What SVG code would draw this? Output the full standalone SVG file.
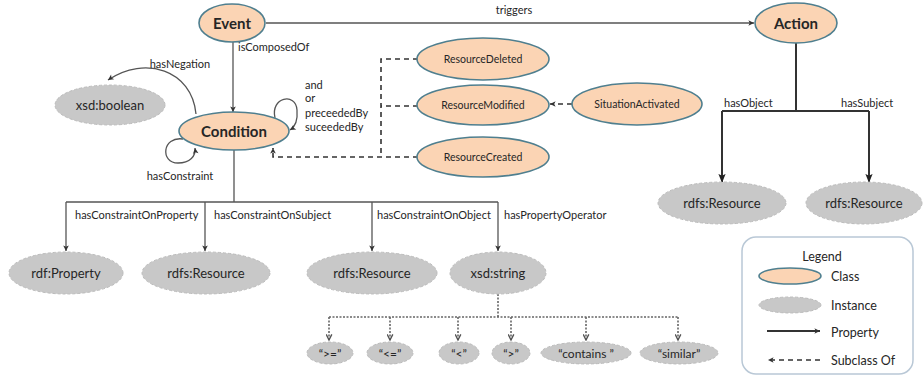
<svg xmlns="http://www.w3.org/2000/svg" width="923" height="380" viewBox="0 0 923 380">
  <defs>
    <marker id="arr" viewBox="0 0 10 10" refX="9" refY="5" markerWidth="7" markerHeight="7" markerUnits="userSpaceOnUse" orient="auto">
      <path d="M1,1 L9,5 L1,9 L3,5 Z" fill="#333"/>
    </marker>
    <marker id="arrBig" viewBox="0 0 10 10" refX="9" refY="5" markerWidth="9" markerHeight="9" markerUnits="userSpaceOnUse" orient="auto">
      <path d="M0,1 L10,5 L0,9 L2,5 Z" fill="#222"/>
    </marker>
    <marker id="arrDot" viewBox="0 0 10 10" refX="9" refY="5" markerWidth="7" markerHeight="7" markerUnits="userSpaceOnUse" orient="auto">
      <path d="M1,1 L9,5 L1,9" fill="none" stroke="#555" stroke-width="2"/>
    </marker>
  </defs>
  <style>
    .cls { fill: #fbd4b4; stroke: #4f7f8f; stroke-width: 1.6; }
    .inst { fill: #c8c8c8; stroke: #bcbcbc; stroke-width: 1; stroke-dasharray: 3 2; }
    .t { font-family: Lato, "Liberation Sans", sans-serif; fill: #262626; text-anchor: middle; dominant-baseline: central; }
    .big { font-size: 15px; font-weight: bold; }
    .mid { font-size: 13px; }
    .sm { font-size: 10.5px; }
    .op { font-size: 12px; }
    .lbl { font-family: Lato, "Liberation Sans", sans-serif; fill: #262626; font-size: 11px; }
    .leg { font-family: Lato, "Liberation Sans", sans-serif; fill: #262626; font-size: 12.5px; }
    .prop { fill: none; stroke: #555; stroke-width: 1.3; }
    .propB { fill: none; stroke: #333; stroke-width: 2; }
    .sub { fill: none; stroke: #333; stroke-width: 1.6; stroke-dasharray: 5 4; }
    .dot { fill: none; stroke: #666; stroke-width: 1.6; stroke-dasharray: 2 1.5; }
  </style>
  <rect width="923" height="380" fill="#ffffff"/>

  <!-- connectors -->
  <g id="connectors">
    <!-- Event -> Action -->
    <path class="prop" d="M266,23 L754,23" stroke="#777" marker-end="url(#arr)"/>
    <text class="lbl" x="514" y="14" text-anchor="middle">triggers</text>
    <!-- Event -> Condition -->
    <path class="prop" d="M233,42 L233,112" marker-end="url(#arr)"/>
    <text class="lbl" x="238" y="51">isComposedOf</text>
    <!-- hasNegation -->
    <path class="prop" d="M196,114 C192,70 145,55 108,80" marker-end="url(#arr)"/>
    <text class="lbl" x="180" y="68" text-anchor="middle">hasNegation</text>
    <!-- hasConstraint loop -->
    <path class="prop" d="M183,139 C162,136 160,163 178,163 C190,163 196,156 195,148" marker-end="url(#arr)"/>
    <text class="lbl" x="180" y="180" text-anchor="middle">hasConstraint</text>
    <!-- and / or / preceededBy / suceededBy loop -->
    <path class="prop" d="M275,118 C270,97 296,92 297,110 C298,122 295,127 290,130" marker-end="url(#arr)"/>
    <text class="lbl" x="305" y="89">and</text>
    <text class="lbl" x="305" y="102">or</text>
    <text class="lbl" x="305" y="117">preceededBy</text>
    <text class="lbl" x="305" y="131">suceededBy</text>

    <!-- subclass links to Condition -->
    <path class="sub" d="M418,59 L381,59 L381,157"/>
    <path class="sub" d="M418,106 L381,106"/>
    <path class="sub" d="M418,157 L273,157 L273,148" marker-end="url(#arr)"/>
    <!-- SituationActivated -> ResourceModified -->
    <path class="sub" d="M572,104 L550,104" marker-end="url(#arr)"/>

    <!-- Action properties -->
    <path class="propB" d="M796,43 L796,111 M722,111 L869,111"/>
    <path class="propB" d="M722,111 L722,182" marker-end="url(#arrBig)"/>
    <path class="propB" d="M869,111 L869,182" marker-end="url(#arrBig)"/>
    <text class="lbl" x="724" y="107">hasObject</text>
    <text class="lbl" x="841" y="107">hasSubject</text>

    <!-- Condition properties -->
    <path class="prop" d="M234,150 L234,202 M66,202 L498,202"/>
    <path class="prop" d="M66,202 L66,251" marker-end="url(#arr)"/>
    <path class="prop" d="M205,202 L205,251" marker-end="url(#arr)"/>
    <path class="prop" d="M372,202 L372,251" marker-end="url(#arr)"/>
    <path class="prop" d="M498,202 L498,251" marker-end="url(#arr)"/>
    <text class="lbl" x="75" y="219">hasConstraintOnProperty</text>
    <text class="lbl" x="214" y="219">hasConstraintOnSubject</text>
    <text class="lbl" x="377" y="219">hasConstraintOnObject</text>
    <text class="lbl" x="504" y="219">hasPropertyOperator</text>

    <!-- xsd:string values -->
    <path class="dot" d="M498,294 L498,317 M329,317 L678,317"/>
    <path class="dot" d="M329,317 L329,340" marker-end="url(#arrDot)"/>
    <path class="dot" d="M390,317 L390,340" marker-end="url(#arrDot)"/>
    <path class="dot" d="M458,317 L458,340" marker-end="url(#arrDot)"/>
    <path class="dot" d="M511,317 L511,340" marker-end="url(#arrDot)"/>
    <path class="dot" d="M586,317 L586,340" marker-end="url(#arrDot)"/>
    <path class="dot" d="M678,317 L678,340" marker-end="url(#arrDot)"/>
  </g>

  <!-- class nodes -->
  <g id="event"><ellipse class="cls" cx="232" cy="23" rx="33" ry="19"/><text class="t big" x="232" y="23">Event</text></g>
  <g id="action"><ellipse class="cls" cx="796" cy="23" rx="41" ry="20"/><text class="t big" x="796" y="23">Action</text></g>
  <g id="condition"><ellipse class="cls" cx="234" cy="131" rx="55" ry="19"/><text class="t big" x="234" y="131">Condition</text></g>
  <g id="resourceDeleted"><ellipse class="cls" cx="483" cy="59" rx="66" ry="21"/><text class="t sm" x="483" y="59">ResourceDeleted</text></g>
  <g id="resourceModified"><ellipse class="cls" cx="483" cy="105" rx="66" ry="20"/><text class="t sm" x="483" y="105">ResourceModified</text></g>
  <g id="resourceCreated"><ellipse class="cls" cx="483" cy="157" rx="66" ry="20"/><text class="t sm" x="483" y="157">ResourceCreated</text></g>
  <g id="situationActivated"><ellipse class="cls" cx="637" cy="104" rx="65" ry="21"/><text class="t sm" x="637" y="104">SituationActivated</text></g>

  <!-- instance nodes -->
  <g id="xsdBoolean"><ellipse class="inst" cx="110" cy="105" rx="55" ry="20"/><text class="t mid" x="110" y="105">xsd:boolean</text></g>
  <g id="actionObject"><ellipse class="inst" cx="722" cy="203" rx="64" ry="21"/><text class="t mid" x="722" y="203">rdfs:Resource</text></g>
  <g id="actionSubject"><ellipse class="inst" cx="864" cy="203" rx="58" ry="21"/><text class="t mid" x="864" y="203">rdfs:Resource</text></g>
  <g id="rdfProperty"><ellipse class="inst" cx="66" cy="273" rx="57" ry="21"/><text class="t mid" x="66" y="273">rdf:Property</text></g>
  <g id="subjectResource"><ellipse class="inst" cx="206" cy="273" rx="64" ry="21"/><text class="t mid" x="206" y="273">rdfs:Resource</text></g>
  <g id="objectResource"><ellipse class="inst" cx="372" cy="273" rx="65" ry="21"/><text class="t mid" x="372" y="273">rdfs:Resource</text></g>
  <g id="xsdString"><ellipse class="inst" cx="498" cy="273" rx="48" ry="21"/><text class="t mid" x="498" y="273">xsd:string</text></g>

  <g id="opGe"><ellipse class="inst" cx="330" cy="353" rx="23" ry="11"/><text class="t op" x="330" y="353">“&gt;=”</text></g>
  <g id="opLe"><ellipse class="inst" cx="390" cy="353" rx="23" ry="11"/><text class="t op" x="390" y="353">“&lt;=”</text></g>
  <g id="opLt"><ellipse class="inst" cx="459" cy="353" rx="20" ry="11"/><text class="t op" x="459" y="353">“&lt;”</text></g>
  <g id="opGt"><ellipse class="inst" cx="511" cy="353" rx="19" ry="11"/><text class="t op" x="511" y="353">“&gt;”</text></g>
  <g id="opContains"><ellipse class="inst" cx="586" cy="353" rx="45" ry="11"/><text class="t op" x="586" y="353">“contains ”</text></g>
  <g id="opSimilar"><ellipse class="inst" cx="679" cy="353" rx="39" ry="11"/><text class="t op" x="679" y="353">“similar”</text></g>

  <!-- legend -->
  <g id="legend">
    <rect x="742" y="237" width="171" height="137" rx="14" fill="#fff" stroke="#b9c8d6" stroke-width="1.5"/>
    <text class="t" x="822" y="256" font-size="12.5px">Legend</text>
    <ellipse class="cls" cx="790" cy="276" rx="31" ry="8"/>
    <text class="leg" x="831" y="281">Class</text>
    <ellipse class="inst" cx="790" cy="305" rx="31" ry="8"/>
    <text class="leg" x="831" y="310">Instance</text>
    <path class="propB" d="M767,331 L820,331" stroke-width="1.5" marker-end="url(#arr)"/>
    <text class="leg" x="831" y="337">Property</text>
    <path class="sub" d="M820,360 L768,360" stroke-width="1.3" stroke-dasharray="4 3" marker-end="url(#arr)"/>
    <text class="leg" x="831" y="365">Subclass Of</text>
  </g>
</svg>
